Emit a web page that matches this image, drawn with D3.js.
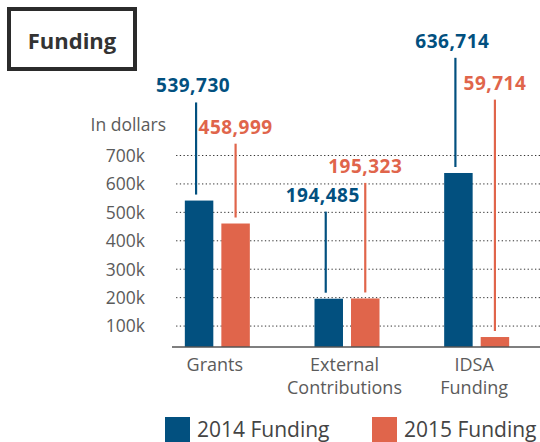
<!DOCTYPE html>
<html>
<head>
<meta charset="utf-8">
<script src="https://cdn.jsdelivr.net/npm/d3@7"></script>
<style>
  body { margin: 0; background: #fff; }
  svg { display: block; font-family: "Open Sans", sans-serif; }
</style>
</head>
<body>
<div id="container"></div>
<script>
const categories = [["Grants"], ["External", "Contributions"], ["IDSA", "Funding"]]
const seriesNames = ["2014 Funding", "2015 Funding"]
const funding2014 = [539730, 194485, 636714]
const funding2015 = [458999, 195323, 59714]
const yTicks = [100000, 200000, 300000, 400000, 500000, 600000, 700000]
// height (in dollars on the y scale) where each value label sits
const labelLevel2014 = [920000, 536000, 1077000]
const labelLevel2015 = [775000, 637000, 930000]

const width = 540, height = 442
const blue = "#02507f", orange = "#e0654b"
const color = d3.scaleOrdinal().domain(seriesNames).range([blue, orange])

const svg = d3.select("#container").append("svg")
    .attr("width", width)
    .attr("height", height)

// title box
svg.append("rect")
    .attr("x", 9).attr("y", 9)
    .attr("width", 126).attr("height", 60)
    .attr("fill", "none")
    .attr("stroke", "#2b2b2b")
    .attr("stroke-width", 4)

svg.append("text")
    .attr("x", 72).attr("y", 49)
    .attr("text-anchor", "middle")
    .attr("font-size", 22)
    .attr("font-weight", 700)
    .attr("fill", "#333")
    .text("Funding")

const y = d3.scaleLinear().domain([0, 700000]).range([354, 155])
const baseline = 347

const x0 = d3.scaleBand()
    .domain(d3.range(categories.length))
    .range([152, 541])

const x1 = d3.scaleBand()
    .domain(seriesNames)
    .range([x0.bandwidth() / 2 - 32, x0.bandwidth() / 2 + 33])
    .paddingInner(0.22)

// grid + tick labels
const axis = d3.axisLeft(y)
    .tickValues(yTicks)
    .tickSize(365)
    .tickPadding(30)
    .tickFormat(d => d / 1000 + "k")

const gAxis = svg.append("g")
    .attr("transform", `translate(${width},0)`)
    .call(axis)
gAxis.select(".domain").remove()
gAxis.selectAll(".tick line")
    .attr("stroke", "#333")
    .attr("stroke-dasharray", "1.3,2.4")
gAxis.selectAll(".tick text")
    .attr("fill", "#5b5b5b")
    .attr("font-size", 17.5)
    .attr("font-family", "Open Sans, sans-serif")
    .attr("dy", "0.36em")

svg.append("text")
    .attr("x", 166).attr("y", 131)
    .attr("text-anchor", "end")
    .attr("font-size", 17.5)
    .attr("fill", "#5b5b5b")
    .text("In dollars")

// bars
const rows = categories.map((c, i) => ({
    i,
    values: [
        {series: seriesNames[0], value: funding2014[i], level: labelLevel2014[i], shift: -3},
        {series: seriesNames[1], value: funding2015[i], level: labelLevel2015[i], shift: 0}
    ]
}))

const group = svg.append("g")
    .selectAll("g")
    .data(rows)
    .join("g")
    .attr("transform", d => `translate(${x0(d.i)},0)`)

group.selectAll("rect")
    .data(d => d.values)
    .join("rect")
    .attr("x", d => x1(d.series))
    .attr("y", d => y(d.value))
    .attr("width", x1.bandwidth())
    .attr("height", d => baseline - y(d.value))
    .attr("fill", d => color(d.series))

// leader lines
group.selectAll("line.leader")
    .data(d => d.values)
    .join("line")
    .attr("class", "leader")
    .attr("x1", d => x1(d.series) + x1.bandwidth() / 2 + d.shift)
    .attr("x2", d => x1(d.series) + x1.bandwidth() / 2 + d.shift)
    .attr("y1", d => y(d.level) + 10)
    .attr("y2", d => y(d.value) - 6)
    .attr("stroke", d => color(d.series))
    .attr("stroke-width", 2.2)

// value labels
group.selectAll("text.val")
    .data(d => d.values)
    .join("text")
    .attr("class", "val")
    .attr("x", d => x1(d.series) + x1.bandwidth() / 2 + d.shift * 2)
    .attr("y", d => y(d.level))
    .attr("text-anchor", "middle")
    .attr("font-size", 19)
    .attr("font-weight", 700)
    .attr("letter-spacing", 0.5)
    .attr("fill", d => color(d.series))
    .text(d => d3.format(",")(d.value))

// baseline
svg.append("line")
    .attr("x1", 172).attr("x2", width)
    .attr("y1", baseline).attr("y2", baseline)
    .attr("stroke", "#555")
    .attr("stroke-width", 1.5)

// category labels
svg.append("g")
    .selectAll("text")
    .data(categories)
    .join("text")
    .attr("x", (d, i) => x0(i) + x0.bandwidth() / 2 - 2)
    .attr("y", 371)
    .attr("text-anchor", "middle")
    .attr("font-size", 18)
    .attr("fill", "#5b5b5b")
    .selectAll("tspan")
    .data(d => d)
    .join("tspan")
    .attr("x", function () { return this.parentNode.getAttribute("x") })
    .attr("dy", (d, i) => i ? 23 : 0)
    .text(d => d)

// legend
const legend = svg.append("g")
    .selectAll("g")
    .data(seriesNames)
    .join("g")
    .attr("transform", (d, i) => `translate(${165 + i * 207},417)`)

legend.append("rect")
    .attr("width", 25)
    .attr("height", 25)
    .attr("fill", color)

legend.append("text")
    .attr("x", 32)
    .attr("y", 20)
    .attr("font-size", 21)
    .attr("fill", "#444")
    .text(d => d)
</script>
</body>
</html>
